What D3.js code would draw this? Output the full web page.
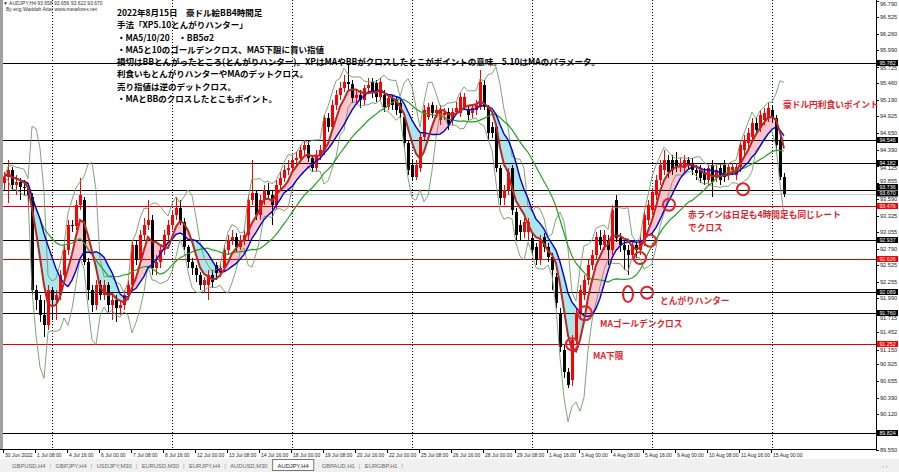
<!DOCTYPE html>
<html><head><meta charset="utf-8">
<script src="https://cdn.jsdelivr.net/npm/d3@7"></script>
<style>body{margin:0;background:#fff;}svg{display:block;}</style>
</head><body><svg id="c" width="899" height="472"></svg>
<script>
// ---- data (AUDJPY H4, 30 Jun 2022 00:00 onwards) ----
const openP = [93.85,93.95,94.06,93.82,93.87,93.79,93.77,93.63,92.13,91.96,
91.72,91.56,92.13,91.96,92.05,92.37,92.77,93.17,93.16,93.50,
93.58,92.58,92.13,91.88,92.21,92.05,92.21,91.88,91.96,91.84,
91.88,92.05,92.21,92.85,92.61,93.01,93.17,93.26,92.48,92.58,
92.77,93.01,93.17,93.34,93.45,93.22,92.82,92.58,92.48,92.37,
92.21,92.21,92.37,92.53,92.40,92.48,92.77,92.93,92.98,92.82,
92.93,93.01,93.58,93.69,93.34,93.58,93.74,93.66,93.50,93.82,
93.93,94.06,94.09,94.22,94.25,94.38,94.46,94.25,94.09,94.30,
94.38,94.90,94.76,95.11,95.27,95.38,95.48,95.45,95.22,95.27,
95.19,95.38,95.48,95.46,95.24,95.27,95.08,95.22,95.19,95.14,
94.92,94.50,94.14,93.95,94.09,94.59,94.92,95.11,94.98,94.87,
94.95,95.00,94.87,95.00,94.98,95.08,95.03,94.98,95.03,95.08,
95.43,95.08,94.75,94.75,94.09,93.61,93.74,94.09,93.38,93.17,
93.06,93.06,92.96,92.82,92.61,92.98,92.82,92.66,92.34,91.76,
91.16,90.80,90.67,91.32,91.75,92.05,92.29,92.53,92.69,92.98,
92.85,92.93,92.77,93.58,92.96,92.85,92.77,92.69,92.85,92.77,
92.90,93.26,93.42,93.66,93.90,94.06,94.22,94.22,94.22,94.11,
94.09,94.22,94.17,94.06,94.06,94.03,93.90,94.14,93.93,94.09,
94.14,93.98,94.06,93.98,94.11,94.38,94.50,94.59,94.82,94.74,
94.87,94.90,95.03,94.90,94.54,93.95];
const highP = [94.03,94.22,94.11,93.98,93.93,93.90,93.85,93.69,92.21,92.05,
91.96,92.21,92.17,92.13,92.45,92.85,93.26,93.26,93.58,93.93,
93.63,92.64,92.21,92.29,92.29,92.29,92.26,92.05,92.05,91.96,
92.13,92.29,92.93,92.93,93.09,93.29,93.58,93.34,92.69,92.85,
93.09,93.26,93.42,93.63,93.58,93.29,92.85,92.64,92.53,92.42,
92.34,92.45,92.45,92.58,92.58,92.85,93.01,93.09,93.05,93.01,
93.09,93.66,94.22,93.74,93.66,93.82,93.85,93.74,93.90,94.03,
94.14,94.22,94.30,94.35,94.46,94.55,94.55,94.30,94.38,94.46,
94.95,94.98,95.19,95.35,95.48,95.59,95.76,95.51,95.35,95.35,
95.43,95.55,95.55,95.51,95.55,95.35,95.27,95.27,95.24,95.19,
94.98,94.55,94.22,94.22,94.66,95.11,95.14,95.16,95.11,95.11,
95.06,95.06,95.06,95.16,95.30,95.30,95.11,95.11,95.19,95.67,
95.51,95.11,94.84,94.79,94.14,93.82,94.09,94.14,93.45,93.26,
93.29,93.29,93.05,92.88,93.01,93.05,92.88,92.72,92.40,91.84,
91.24,90.87,91.40,91.84,92.21,92.37,92.61,92.77,93.06,93.09,
93.09,93.01,93.50,93.66,93.05,92.93,92.85,92.93,92.93,93.01,
93.42,93.58,93.77,93.98,94.22,94.38,94.30,94.30,94.35,94.25,
94.30,94.27,94.25,94.14,94.14,94.09,94.14,94.22,94.14,94.17,
94.22,94.17,94.17,94.17,94.55,94.62,94.74,94.90,94.90,95.03,
95.06,95.14,95.11,94.95,94.62,94.01];
const lowP = [93.74,93.53,93.74,93.66,93.58,93.66,93.42,92.05,91.80,91.61,
91.37,91.48,91.64,91.64,91.96,92.29,92.69,93.06,93.09,93.42,
92.53,91.96,91.77,91.80,91.96,91.96,91.77,91.64,91.61,91.72,
91.80,91.96,92.13,92.53,92.53,92.93,93.09,92.37,92.37,92.48,
92.69,92.93,93.09,93.26,93.17,92.77,92.48,92.37,92.26,92.13,
92.08,91.96,92.16,92.29,92.34,92.42,92.69,92.85,92.74,92.77,
92.85,92.93,93.50,93.26,93.26,93.50,93.58,93.17,93.42,93.74,
93.87,93.98,94.03,94.14,94.19,94.30,94.19,94.03,94.03,94.22,
94.30,94.67,94.71,95.03,95.19,95.32,95.35,95.14,95.11,95.06,
95.11,95.32,95.22,95.16,95.19,95.00,95.03,95.03,94.95,94.90,
94.42,93.98,93.90,93.90,94.03,94.55,94.87,94.90,94.90,94.79,
94.87,94.71,94.79,94.95,94.92,95.03,94.87,94.90,94.95,95.03,
95.03,94.55,94.58,94.03,93.50,93.50,93.66,93.34,92.93,92.93,
92.96,92.93,92.69,92.53,92.53,92.74,92.58,92.13,91.84,91.13,
90.71,90.55,90.58,91.24,91.64,91.96,92.21,92.45,92.61,92.77,
92.77,92.53,92.69,92.90,92.74,92.45,92.37,92.61,92.64,92.69,
92.84,93.17,93.34,93.58,93.82,93.98,93.93,93.98,94.03,94.03,
94.03,94.06,93.98,93.90,93.85,93.82,93.82,93.63,93.87,93.82,
93.87,93.90,93.98,93.90,94.03,94.30,94.42,94.54,94.62,94.67,
94.79,94.84,94.82,94.38,93.90,93.62];
const closeP = [93.95,94.06,93.82,93.87,93.79,93.77,93.66,92.13,91.96,91.72,
91.56,92.13,91.96,92.05,92.37,92.77,93.17,93.16,93.50,93.66,
92.58,92.13,91.88,92.21,92.05,92.21,91.88,91.96,91.84,91.88,
92.05,92.21,92.85,92.61,93.01,93.17,93.26,92.48,92.58,92.77,
93.01,93.17,93.34,93.45,93.22,92.82,92.58,92.48,92.37,92.21,
92.29,92.37,92.26,92.40,92.48,92.77,92.93,92.98,92.82,92.93,
93.01,93.58,93.69,93.34,93.58,93.74,93.66,93.50,93.82,93.93,
94.06,94.09,94.22,94.25,94.38,94.46,94.25,94.09,94.30,94.38,
94.90,94.76,95.11,95.27,95.38,95.48,95.45,95.22,95.27,95.19,
95.38,95.43,95.30,95.24,95.48,95.08,95.22,95.11,95.03,94.98,
94.50,94.06,93.95,94.14,94.59,95.03,95.08,94.98,95.03,95.03,
94.98,94.79,95.00,95.06,95.24,95.24,94.95,95.06,95.11,95.48,
95.08,94.66,94.66,94.09,93.61,93.74,94.03,93.42,93.01,93.06,
93.22,93.22,92.77,92.61,92.93,92.82,92.66,92.45,91.92,91.21,
90.80,90.59,91.32,91.75,92.13,92.29,92.53,92.69,92.98,92.85,
93.01,92.77,93.42,92.96,92.85,92.77,92.69,92.85,92.77,92.93,
93.34,93.50,93.71,93.90,94.14,94.22,94.03,94.06,94.11,94.17,
94.22,94.14,94.06,94.01,93.93,93.90,94.09,93.87,94.06,93.90,
93.95,94.11,94.11,94.11,94.46,94.54,94.66,94.82,94.71,94.95,
94.98,95.06,94.90,94.46,93.95,93.67];

const timeLabels = ["30 Jun 2022","1 Jul 08:00","4 Jul 16:00","6 Jul 00:00","7 Jul 08:00","8 Jul 16:00",
"12 Jul 00:00","13 Jul 08:00","14 Jul 16:00","18 Jul 00:00","19 Jul 08:00","20 Jul 16:00","22 Jul 00:00",
"25 Jul 08:00","26 Jul 16:00","28 Jul 00:00","29 Jul 08:00","1 Aug 16:00","3 Aug 00:00","4 Aug 08:00",
"5 Aug 16:00","9 Aug 00:00","10 Aug 08:00","11 Aug 16:00","15 Aug 00:00"];
const weekStarts = [12,42,72,102,132,162,192];
const priceTicks = [96.790,96.525,96.260,95.990,95.725,95.460,95.190,94.925,94.650,94.390,94.125,93.855,
93.590,93.325,93.055,92.790,92.525,92.255,91.990,91.715,91.452,91.150,90.925,90.655,90.390,90.120,89.550];
const blackLevels = [95.782,94.546,94.182,93.736,92.937,92.089,91.760,89.824];
const redLevels = [93.476,92.626,91.252];
const bidLevel = 93.670;
const noteLines = ["2022年8月15日　豪ドル絵BB4時間足","手法「XP5.10とんがりハンター」","・MA5/10/20　・BB5σ2",
"・MA5と10のゴールデンクロス、MA5下限に買い指値",
"損切はBBとんがったところ(とんがりハンター)。XPはMAやBBがクロスしたとこがポイントの意味。5.10はMAのパラメータ。",
"利食いもとんがりハンターやMAのデットクロス。","売り指値は逆のデットクロス。","・MAとBBのクロスしたとこもポイント。"];
const redNotes = [
 {t:"豪ドル円利食いポイント", i:194.75, p:95.11},
 {t:"赤ラインは日足も4時間足も同じレート", i:171, p:93.335},
 {t:"でクロス", i:171, p:93.13},
 {t:"とんがりハンター", i:164, p:91.95},
 {t:"MAゴールデンクロス", i:149, p:91.58},
 {t:"MA下限", i:147.25, p:91.06}];
const circles = [
 {i:142,p:91.25,rx:6,ry:6},{i:145.25,p:91.75,rx:7,ry:7},{i:156,p:92.06,rx:5,ry:8},
 {i:160.75,p:92.08,rx:6,ry:6},{i:159,p:92.64,rx:6,ry:6},{i:161.5,p:92.92,rx:6,ry:6},
 {i:166.25,p:93.50,rx:6,ry:6},{i:184.75,p:93.75,rx:6,ry:6}];
const tabs = ["GBPUSD,H4","GBPJPY,H4","USDJPY,M30","EURUSD,M30","EURJPY,H4","AUDUSD,M30","AUDJPY,H4","GBPAUD,H1","EURGBP,H1"];
const header1 = "▼ AUDJPY,H4  93.658 93.656 93.622 93.670";
const header2 = "By eng.Waddah Attar   www.metaforex.net";

// ---- indicators ----
const n = closeP.length;
function sma(p){return closeP.map((_,i)=>{const s=Math.max(0,i-p+1);return d3.mean(closeP.slice(s,i+1));});}
const ma5=sma(5), ma10=sma(10), ma20=sma(20);
const bbU=[],bbL=[];
for(let i=0;i<n;i++){const s=Math.max(0,i-4);const a=closeP.slice(s,i+1);const m=d3.mean(a);
 const sd=Math.sqrt(d3.mean(a.map(v=>(v-m)*(v-m))));bbU.push(m+2*sd);bbL.push(m-2*sd);}

// ---- layout ----
const svg=d3.select("#c");
const L=3,R=876,T=0,B=449;
const x=d3.scaleLinear().domain([0,n-1]).range([4,4+4*(n-1)]);
const y=d3.scaleLinear().domain([89.561,96.803]).range([B,T]);
const idx=d3.range(n);

svg.append("rect").attr("width",899).attr("height",472).attr("fill","#fff");
const defs=svg.append("defs");
defs.append("clipPath").attr("id","plot").append("rect").attr("x",L).attr("y",T).attr("width",R-L).attr("height",B-T);
defs.append("clipPath").attr("id","above").append("path")
 .attr("d",d3.area().x(i=>x(i)).y0(T).y1(i=>y(ma10[i]))(idx));
defs.append("clipPath").attr("id","below").append("path")
 .attr("d",d3.area().x(i=>x(i)).y0(B).y1(i=>y(ma10[i]))(idx));

const g=svg.append("g").attr("clip-path","url(#plot)");

g.selectAll(".sep").data(weekStarts).join("line")
 .attr("x1",d=>Math.round(x(d))+0.5).attr("x2",d=>Math.round(x(d))+0.5).attr("y1",T).attr("y2",B)
 .attr("stroke","#000").attr("stroke-dasharray","1,2").attr("stroke-width",1);

const between=d3.area().x(i=>x(i)).y0(i=>y(ma10[i])).y1(i=>y(ma5[i]));
g.append("path").attr("d",between(idx)).attr("fill","#ffc4ce").attr("clip-path","url(#above)");
g.append("path").attr("d",between(idx)).attr("fill","#a9e6ee").attr("clip-path","url(#below)");

g.append("line").attr("x1",L).attr("x2",R).attr("y1",Math.round(y(bidLevel))+0.5).attr("y2",Math.round(y(bidLevel))+0.5)
 .attr("stroke","#c8c8c8").attr("stroke-width",1);
g.selectAll(".bl").data(blackLevels).join("line")
 .attr("x1",L).attr("x2",R).attr("y1",d=>Math.round(y(d))+0.5).attr("y2",d=>Math.round(y(d))+0.5)
 .attr("stroke","#000").attr("stroke-width",1);
g.selectAll(".rl").data(redLevels).join("line")
 .attr("x1",L).attr("x2",R).attr("y1",d=>Math.round(y(d))+0.5).attr("y2",d=>Math.round(y(d))+0.5)
 .attr("stroke","#e00000").attr("stroke-width",1);

const cg=g.append("g").attr("shape-rendering","crispEdges");
idx.forEach(i=>{
 const up=closeP[i]>=openP[i];const col=up?"#ff0000":"#000";
 const cx=Math.round(x(i));
 cg.append("line").attr("x1",cx+0.5).attr("x2",cx+0.5).attr("y1",y(highP[i])).attr("y2",y(lowP[i])).attr("stroke",col);
 const yt=y(Math.max(openP[i],closeP[i])), yb=y(Math.min(openP[i],closeP[i]));
 cg.append("rect").attr("x",cx-1).attr("width",3).attr("y",yt).attr("height",Math.max(1,yb-yt)).attr("fill",col);
});

const ln=arr=>d3.line().x(i=>x(i)).y(i=>y(arr[i]))(idx);
g.append("path").attr("d",ln(bbU)).attr("fill","none").attr("stroke","#6f9a6a").attr("stroke-width",0.9);
g.append("path").attr("d",ln(bbL)).attr("fill","none").attr("stroke","#6f9a6a").attr("stroke-width",0.9);
g.append("path").attr("d",ln(ma20)).attr("fill","none").attr("stroke","#22a022").attr("stroke-width",1.2);
g.append("path").attr("d",ln(ma10)).attr("fill","none").attr("stroke","#0000d0").attr("stroke-width",1.4);
g.append("path").attr("d",ln(ma5)).attr("fill","none").attr("stroke","#b8281e").attr("stroke-width",2);

svg.append("line").attr("x1",1.5).attr("x2",1.5).attr("y1",0).attr("y2",B).attr("stroke","#a0a0a0").attr("stroke-width",3);
svg.append("line").attr("x1",R+0.5).attr("x2",R+0.5).attr("y1",0).attr("y2",B+0.5).attr("stroke","#000");
svg.append("line").attr("x1",0).attr("x2",R+1).attr("y1",B+0.5).attr("y2",B+0.5).attr("stroke","#000");

// price axis
const ax=svg.append("g").attr("font-family","Liberation Sans, Arial, sans-serif").attr("font-size",5.6);
const boxes=[];
blackLevels.forEach(p=>boxes.push({p,bg:"#000",c:Math.round(y(p))+(p===93.736?-3:0)}));
boxes.push({p:bidLevel,bg:"#000",c:Math.round(y(bidLevel))-0.5});
redLevels.forEach(p=>boxes.push({p,bg:"#ff0000",c:Math.round(y(p))}));
const BH=6;
const hits=ty=>boxes.some(b=>Math.abs(b.c-ty)<BH/2+2.3);
priceTicks.forEach(p=>{const yy=Math.round(y(p))+0.5;
 ax.append("line").attr("x1",R).attr("x2",R+3).attr("y1",yy).attr("y2",yy).attr("stroke","#000");
 let ty=Math.max(yy,4);
 if(hits(ty)){for(let d=0.5;d<=7;d+=0.5){if(!hits(ty+d)){ty=ty+d;break;} if(!hits(ty-d)){ty=ty-d;break;}}}
 ax.append("text").attr("x",880).attr("y",ty).attr("dy","0.35em").attr("fill","#222").text(p.toFixed(3));});
boxes.forEach(b=>{
 ax.append("rect").attr("x",877).attr("y",b.c-BH/2).attr("width",21).attr("height",BH).attr("fill",b.bg);
 ax.append("text").attr("x",887.5).attr("y",b.c).attr("dy","0.35em").attr("text-anchor","middle").attr("font-size",5.3).attr("fill","#fff").text(b.p.toFixed(3));});

// time axis
const tx=svg.append("g").attr("font-family","Liberation Sans, Arial, sans-serif").attr("font-size",5).attr("fill","#222");
timeLabels.forEach((t,k)=>{const xx=Math.round(x(k*8))-0.5;
 tx.append("line").attr("x1",xx).attr("x2",xx).attr("y1",B).attr("y2",B+4).attr("stroke","#000");
 tx.append("text").attr("x",xx+1.5).attr("y",455).attr("dy","0.35em").text(t);});

svg.append("text").attr("x",3).attr("y",3.5).attr("dy","0.35em").attr("font-size",5).attr("fill","#333")
 .attr("font-family","Liberation Sans, Arial, sans-serif").text(header1);
svg.append("text").attr("x",6).attr("y",9.5).attr("dy","0.35em").attr("font-size",5).attr("fill","#333")
 .attr("font-family","Liberation Sans, Arial, sans-serif").text(header2);

const nb=svg.append("g").attr("font-family","'Noto Sans CJK JP', sans-serif").attr("font-weight","bold").attr("font-size",8.5).attr("fill","#000");
noteLines.forEach((t,k)=>nb.append("text").attr("x",117).attr("y",13+12.3*k).attr("dy","0.35em").text(t));

const rn=svg.append("g").attr("font-family","'Noto Sans CJK JP', sans-serif").attr("font-weight","bold").attr("font-size",8.7).attr("fill","#e41e2a");
redNotes.forEach(d=>rn.append("text").attr("x",x(d.i)).attr("y",y(d.p)).attr("dy","0.35em").text(d.t));
svg.selectAll(".cir").data(circles).join("ellipse").attr("cx",d=>x(d.i)).attr("cy",d=>y(d.p))
 .attr("rx",d=>d.rx).attr("ry",d=>d.ry).attr("fill","none").attr("stroke","#e41e2a").attr("stroke-width",2);

// tabs
svg.append("rect").attr("x",0).attr("y",459).attr("width",899).attr("height",13).attr("fill","#f0f0f0");
const tg=svg.append("g").attr("font-family","Liberation Sans, Arial, sans-serif").attr("font-size",5.8).attr("fill","#666");
let tx0=12;
tabs.forEach((t,k)=>{
 const sel=t==="AUDJPY,H4";
 const txt=tg.append("text").attr("x",tx0).attr("y",466).attr("dy","0.35em").text(t);
 const w=txt.node().getComputedTextLength();
 if(sel){tg.insert("rect","text").attr("x",tx0-5).attr("y",459.5).attr("width",w+10).attr("height",11).attr("fill","#fff").attr("stroke","#777");
   txt.attr("fill","#222");}
 else tg.append("text").attr("x",tx0+w+4).attr("y",466).attr("dy","0.35em").attr("fill","#999").text("|");
 tx0+=w+(sel?13:10);
});
tg.append("text").attr("x",882).attr("y",466).attr("dy","0.35em").attr("fill","#999").text("‹  ›");
</script></body></html>
